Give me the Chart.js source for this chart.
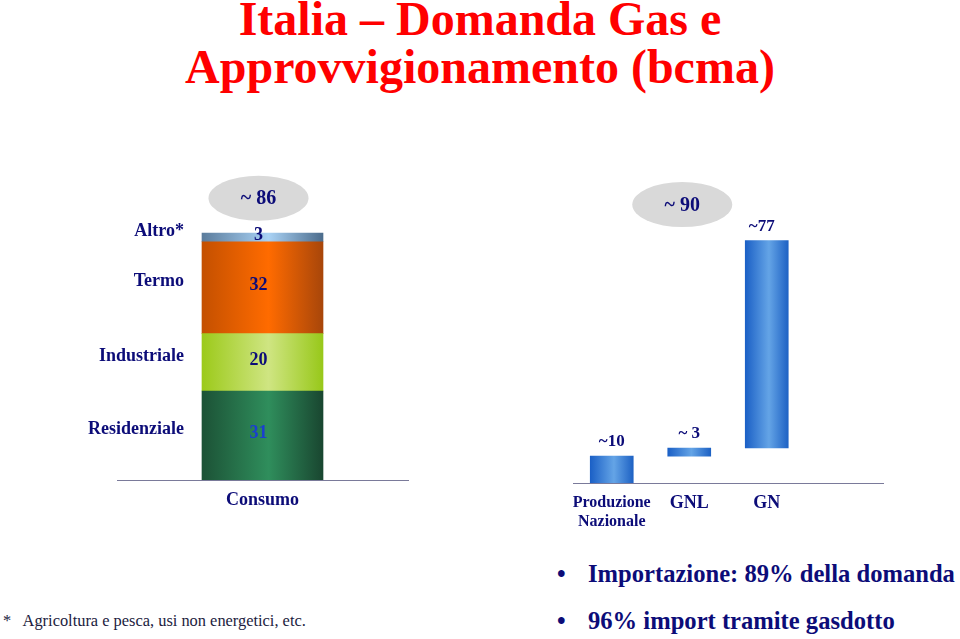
<!DOCTYPE html>
<html>
<head>
<meta charset="utf-8">
<script src="https://cdn.jsdelivr.net/npm/chart.js@4"></script>
<style>
  html, body { margin: 0; padding: 0; background: #fff; }
  body { width: 960px; height: 639px; position: relative; overflow: hidden; font-family: "Liberation Serif", "Times New Roman", serif; }
  #title { position: absolute; left: 0; top: -5px; width: 960px; text-align: center; color: #ff0000; font-weight: bold; font-size: 48px; line-height: 48px; }
  canvas { position: absolute; }
  #left { left: 0; top: 150px; }
  #right { left: 560px; top: 150px; }
  .bullet { position: absolute; left: 557px; color: #0c0c78; font-weight: bold; font-size: 24.6px; white-space: nowrap; }
  .bullet span { display: inline-block; width: 31px; }
  #b1 { top: 560px; }
  #b2 { top: 607px; }
  #note { position: absolute; left: 3px; top: 611px; font-size: 16.4px; color: #1c1c40; white-space: nowrap; }
</style>
</head>
<body>
<div id="title">Italia – Domanda Gas e<br>Approvvigionamento (bcma)</div>
<canvas id="left" width="420" height="400"></canvas>
<canvas id="right" width="400" height="400"></canvas>
<div class="bullet" id="b1"><span>•</span>Importazione: 89% della domanda</div>
<div class="bullet" id="b2"><span>•</span>96% import tramite gasdotto</div>
<div id="note">*&nbsp;&nbsp; Agricoltura e pesca, usi non energetici, etc.</div>
<script>
// consumption side
const demandCategories = ["Consumo"];
const sectors = ["Residenziale", "Industriale", "Termo", "Altro*"];
const sectorValues = [31, 20, 32, 3];
const demandTotal = "~ 86";

// supply side
const supplyCategories = [["Produzione", "Nazionale"], "GNL", "GN", ""];
const supplyValues = [10, 3, 77];
const supplyTexts = ["~10", "~ 3", "~77"];
const supplyTotal = "~ 90";

const navy = "#0c0c78";
const serif = "'Liberation Serif', 'Times New Roman', serif";

// edge / centre / edge colours for the cylinder look
const sectorShades = [
  ["#1c5236", "#2f8e5c", "#194630"],
  ["#9cca1a", "#cfe582", "#98c81a"],
  ["#c45000", "#ff6b00", "#a8460a"],
  ["#5b7c9c", "#a9d2f5", "#4c6c8c"],
];
const supplyShade = ["#1b60c6", "#64a4e6", "#1e62c4"];

const barGradient = (shades, width) => (ctx) => {
  const chart = ctx.chart;
  if (!chart.chartArea) return shades[1];
  const cx = chart.scales.x.getPixelForValue(ctx.dataIndex);
  const g = chart.ctx.createLinearGradient(cx - width / 2, 0, cx + width / 2, 0);
  g.addColorStop(0, shades[0]);
  g.addColorStop(0.55, shades[1]);
  g.addColorStop(1, shades[2]);
  return g;
};

const bubble = (ctx, x, y, text) => {
  ctx.save();
  ctx.fillStyle = "#d9d9d9";
  ctx.beginPath();
  ctx.ellipse(x, y, 50, 22.5, 0, 0, Math.PI * 2);
  ctx.fill();
  ctx.fillStyle = navy;
  ctx.font = `bold 20px ${serif}`;
  ctx.textAlign = "center";
  ctx.textBaseline = "middle";
  ctx.fillText(text, x, y + 1);
  ctx.restore();
};

const leftLabels = {
  id: "leftLabels",
  afterDatasetsDraw(chart) {
    const ctx = chart.ctx;
    ctx.save();
    ctx.textBaseline = "middle";
    ctx.font = `bold 18px ${serif}`;
    let top = null;
    sectors.forEach((name, i) => {
      const el = chart.getDatasetMeta(i).data[0];
      const mid = (el.y + el.base) / 2;
      ctx.fillStyle = i === 0 ? "#1a3fd0" : navy;
      ctx.textAlign = "center";
      ctx.fillText(String(sectorValues[i]), el.x - 4, mid - 2);
      ctx.fillStyle = navy;
      ctx.textAlign = "right";
      ctx.fillText(name, el.x - el.width / 2 - 18, mid - 6);
      top = el;
    });
    ctx.restore();
    bubble(ctx, top.x - 4, top.y - 35, demandTotal);
  },
};

const rightLabels = {
  id: "rightLabels",
  afterDatasetsDraw(chart) {
    const ctx = chart.ctx;
    const els = chart.getDatasetMeta(0).data;
    ctx.save();
    ctx.fillStyle = navy;
    ctx.font = `bold 17px ${serif}`;
    ctx.textAlign = "center";
    ctx.textBaseline = "middle";
    supplyTexts.forEach((t, i) => {
      ctx.fillText(t, els[i].x - (i === 2 ? 5 : 0), els[i].y - 14);
    });
    ctx.restore();
    bubble(ctx, els[1].x - 7, els[2].y - 36, supplyTotal);
  },
};

const xAxis = (height, fontFn) => ({
  grid: { display: false, drawTicks: false },
  border: { display: true, color: "#7a7a9a", width: 1 },
  ticks: { color: navy, padding: 10, font: fontFn, autoSkip: false, maxRotation: 0, minRotation: 0 },
  afterFit: (scale) => { scale.height = height; },
});

new Chart(document.getElementById("left"), {
  type: "bar",
  data: {
    labels: demandCategories,
    datasets: sectors.map((name, i) => ({
      label: name,
      data: [sectorValues[i]],
      backgroundColor: barGradient(sectorShades[i], 121),
      barThickness: 121,
    })),
  },
  options: {
    responsive: false,
    animation: false,
    layout: { padding: { left: 117, right: 12, top: 43, bottom: 0 } },
    scales: {
      x: { stacked: true, ...xAxis(70, () => ({ family: serif, size: 18, weight: "bold" })) },
      y: { stacked: true, display: false, min: 0, max: 100 },
    },
    plugins: { legend: { display: false }, tooltip: { enabled: false } },
  },
  plugins: [leftLabels],
});

// waterfall: each bar starts where the previous one ended
let runningTotal = 0;
const supplyRanges = supplyValues.map((v) => {
  const r = [runningTotal, runningTotal + v];
  runningTotal += v;
  return r;
});

new Chart(document.getElementById("right"), {
  type: "bar",
  data: {
    labels: supplyCategories,
    datasets: [{
      data: supplyRanges,
      backgroundColor: barGradient(supplyShade, 43),
      barThickness: 43,
    }],
  },
  options: {
    responsive: false,
    animation: false,
    layout: { padding: { left: 13, right: 77, top: 61, bottom: 0 } },
    scales: {
      x: xAxis(67, (ctx) => ({ family: serif, size: ctx.index === 0 ? 16 : 18, weight: "bold" })),
      y: { display: false, min: 0, max: 101 },
    },
    plugins: { legend: { display: false }, tooltip: { enabled: false } },
  },
  plugins: [rightLabels],
});
</script>
</body>
</html>
